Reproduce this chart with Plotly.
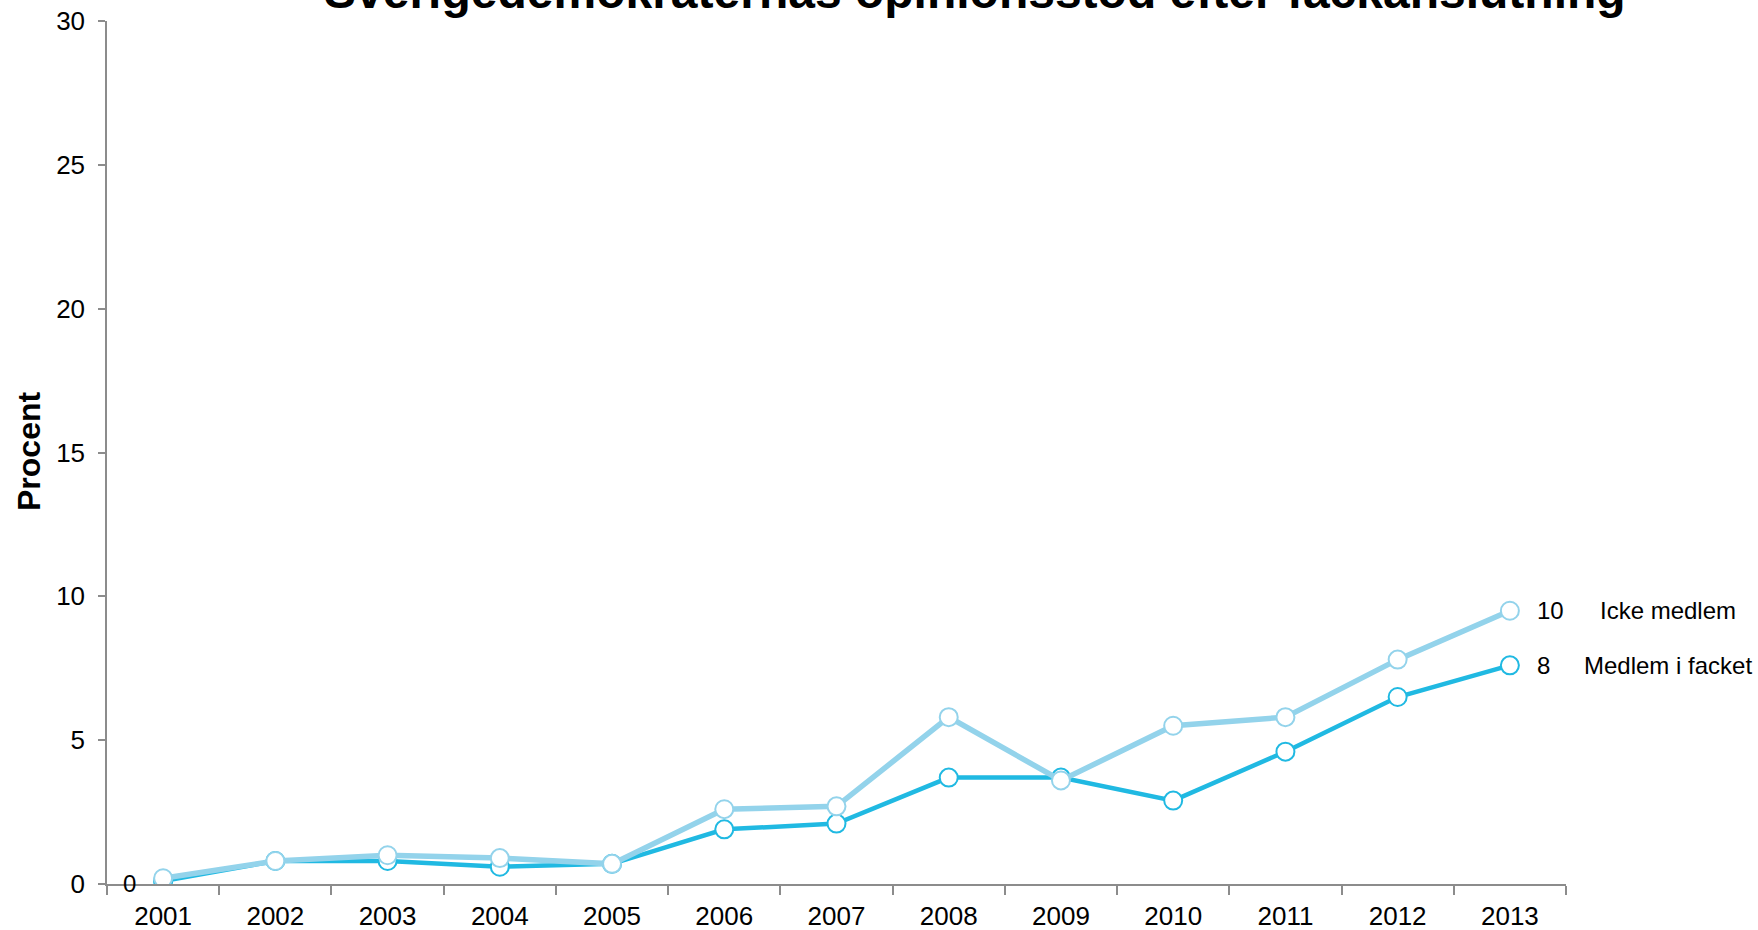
import plotly.graph_objects as go

years = ["2001", "2002", "2003", "2004", "2005", "2006", "2007",
         "2008", "2009", "2010", "2011", "2012", "2013"]
icke_medlem = [0.2, 0.8, 1.0, 0.9, 0.7, 2.6, 2.7, 5.8, 3.6, 5.5, 5.8, 7.8, 9.5]
medlem_facket = [0.1, 0.8, 0.8, 0.6, 0.7, 1.9, 2.1, 3.7, 3.7, 2.9, 4.6, 6.5, 7.6]
series_names = ["Icke medlem", "Medlem i facket"]
title_text = "Sverigedemokraternas opinionsstöd efter fackanslutning"
y_title = "Procent"
y_ticks = [0, 5, 10, 15, 20, 25, 30]

LIGHT = "#93D3EB"
DARK = "#20B9E2"
AXIS = "#8C8C8C"
FONT = "Liberation Sans, Arial, sans-serif"

W, H = 1758, 930
ML, MR, MT, MB = 107, 192, 21, 46
PW, PH = W - ML - MR, H - MT - MB

fig = go.Figure()
fig.add_trace(go.Scatter(
    x=years, y=medlem_facket, name=series_names[1], mode="lines+markers",
    line=dict(color=DARK, width=4.5),
    marker=dict(size=18, color="white", line=dict(color=DARK, width=2)),
))
fig.add_trace(go.Scatter(
    x=years, y=icke_medlem, name=series_names[0], mode="lines+markers",
    line=dict(color=LIGHT, width=5.5),
    marker=dict(size=18, color="white", line=dict(color=LIGHT, width=2)),
))

last = len(years) - 1
annotations = []
# end labels (category index used for x)
for vals, name in [(icke_medlem, series_names[0]), (medlem_facket, series_names[1])]:
    annotations.append(dict(x=last, y=vals[-1], xref="x", yref="y",
                            text=f"{vals[-1]:.0f}", showarrow=False,
                            xanchor="left", xshift=25,
                            font=dict(size=24, color="black", family=FONT)))
    annotations.append(dict(x=last, y=vals[-1], xref="x", yref="y",
                            text=name, showarrow=False,
                            xanchor="center", xshift=158,
                            font=dict(size=24, color="black", family=FONT)))
# first point label
annotations.append(dict(x=0, y=medlem_facket[0], xref="x", yref="y",
                        text=f"{medlem_facket[0]:.0f}", showarrow=False,
                        xanchor="right", xshift=-25, yshift=-2,
                        font=dict(size=24, color="black", family=FONT)))
# title (partially cut off at top, as in the reference)
annotations.append(dict(x=(975 - ML) / PW, y=(H - MB + 8) / PH,
                        xref="paper", yref="paper", text=f"<b>{title_text}</b>",
                        showarrow=False, xanchor="center", yanchor="middle",
                        font=dict(size=48, color="black", family=FONT)))
# y title
annotations.append(dict(x=(29 - ML) / PW, y=(H - MB - 452) / PH,
                        xref="paper", yref="paper", text=f"<b>{y_title}</b>",
                        showarrow=False, textangle=-90, xanchor="center", yanchor="middle",
                        font=dict(size=32, color="black", family=FONT)))

fig.update_layout(
    width=W, height=H,
    margin=dict(l=ML, r=MR, t=MT, b=MB, pad=0, autoexpand=False),
    paper_bgcolor="white", plot_bgcolor="white",
    showlegend=False,
    font=dict(family=FONT, size=26, color="black"),
    annotations=annotations,
)
fig.update_xaxes(
    type="category", tickson="boundaries", ticks="outside", ticklen=9,
    tickcolor=AXIS, tickwidth=1.5, showline=True, linecolor=AXIS, linewidth=1.5,
    showgrid=False, zeroline=False, ticklabelstandoff=8, tickangle=0,
    automargin=False, range=[-0.5, last + 0.5],
    tickfont=dict(size=26, color="black", family=FONT),
)
fig.update_yaxes(
    range=[0, 30], tickvals=y_ticks, ticks="outside", ticklen=7,
    tickcolor=AXIS, tickwidth=1.5, showline=True, linecolor=AXIS, linewidth=1.5,
    showgrid=False, zeroline=False, ticklabelstandoff=8, automargin=False,
    tickfont=dict(size=26, color="black", family=FONT),
)

fig.write_html("out.html", config={"displayModeBar": False},
               post_script="document.body.style.margin='0';document.body.style.overflow='hidden';")
